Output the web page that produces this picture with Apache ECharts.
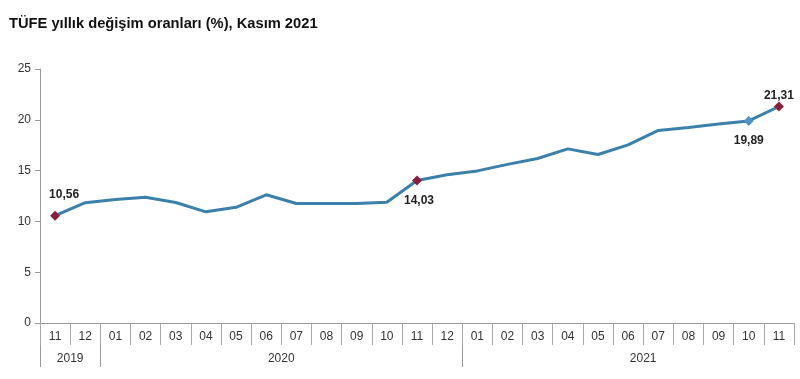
<!DOCTYPE html>
<html><head><meta charset="utf-8">
<script src="https://cdn.jsdelivr.net/npm/echarts@6/dist/echarts.min.js"></script>
<style>html,body{margin:0;padding:0;background:#fff}#c{width:800px;height:379px}</style>
</head><body><div id="c"></div>
<script>
const months = ['11','12','01','02','03','04','05','06','07','08','09','10','11','12','01','02','03','04','05','06','07','08','09','10','11'];
const values = [10.56,11.84,12.15,12.37,11.86,10.94,11.39,12.62,11.76,11.77,11.75,11.89,14.03,14.60,14.97,15.61,16.19,17.14,16.59,17.53,18.95,19.25,19.58,19.89,21.31];
const years = ['2019','2020','2021'];
const yearCounts = [2, 12, 11];
const yTicks = [0,5,10,15,20,25];
const labelled = {0:'top', 12:'bottom', 23:'bottom', 24:'top'};

// year boundaries & label centres (Excel centres last year over a full year span)
const bounds = [0]; yearCounts.forEach(c => bounds.push(bounds[bounds.length-1]+c));
const yearCentres = [bounds[0]+yearCounts[0]/2, bounds[1]+yearCounts[1]/2, bounds[2]+6];

const data = values.map((v,i) => {
  const d = {value: v};
  if (labelled[i] !== undefined) {
    const blue = i === 23;
    d.symbol = 'diamond';
    d.symbolSize = 10;
    d.itemStyle = {color: blue ? '#4f93c4' : '#8a1f3a'};
    d.label = {show: true, position: labelled[i], distance: i===24 ? 0 : (labelled[i]==='top'?10:9),
      formatter: v.toFixed(2).replace('.', ','), fontWeight: 'bold', fontSize: 12,
      color: '#222', fontFamily: 'Liberation Sans, Arial, sans-serif',
      offset: i===0 ? [9,0] : (i===12 ? [2,0] : [0,0])};
  }
  return d;
});

const chart = echarts.init(document.getElementById('c'));
chart.setOption({
  animation: false,
  title: {text: 'TÜFE yıllık değişim oranları (%), Kasım 2021', left: 4, top: 11,
    textStyle: {fontSize: 14.7, fontWeight: 'bold', color: '#111', fontFamily: 'Liberation Sans, Arial, sans-serif'}},
  grid: {left: 40, right: 6, top: 69, bottom: 56, containLabel: false},
  xAxis: [{
    type: 'category', data: months, boundaryGap: true, position: 'bottom',
    axisLine: {lineStyle: {color: '#999', width: 1}},
    axisTick: {show: true, length: 22, interval: 0, lineStyle: {color: '#aaa'}},
    axisLabel: {color: '#333', fontSize: 12, margin: 8, interval: 0, fontFamily: 'Liberation Sans, Arial, sans-serif'}
  },{
    type: 'value', min: 0, max: months.length, position: 'bottom', offset: 22,
    axisLine: {show: false},
    axisTick: {show: true, length: 22, customValues: bounds.slice(0,3), lineStyle: {color: '#999'}},
    axisLabel: {show: true, customValues: yearCentres, margin: 8, color: '#333', fontSize: 12,
      fontFamily: 'Liberation Sans, Arial, sans-serif',
      formatter: v => years[yearCentres.indexOf(v)]},
    splitLine: {show: false}
  }],
  yAxis: {
    type: 'value', min: 0, max: 25, interval: 5,
    axisLine: {show: true, lineStyle: {color: '#999'}},
    axisTick: {show: true, length: 5, lineStyle: {color: '#999'}},
    axisLabel: {color: '#333', fontSize: 12, margin: 9, fontFamily: 'Liberation Sans, Arial, sans-serif',
      customValues: yTicks},
    splitLine: {show: false}
  },
  series: [{
    type: 'line', xAxisIndex: 0, data: data,
    symbol: 'none', showSymbol: true,
    lineStyle: {color: '#3b80aa', width: 3},
    itemStyle: {color: '#3b80aa'}
  }]
});
</script></body></html>
